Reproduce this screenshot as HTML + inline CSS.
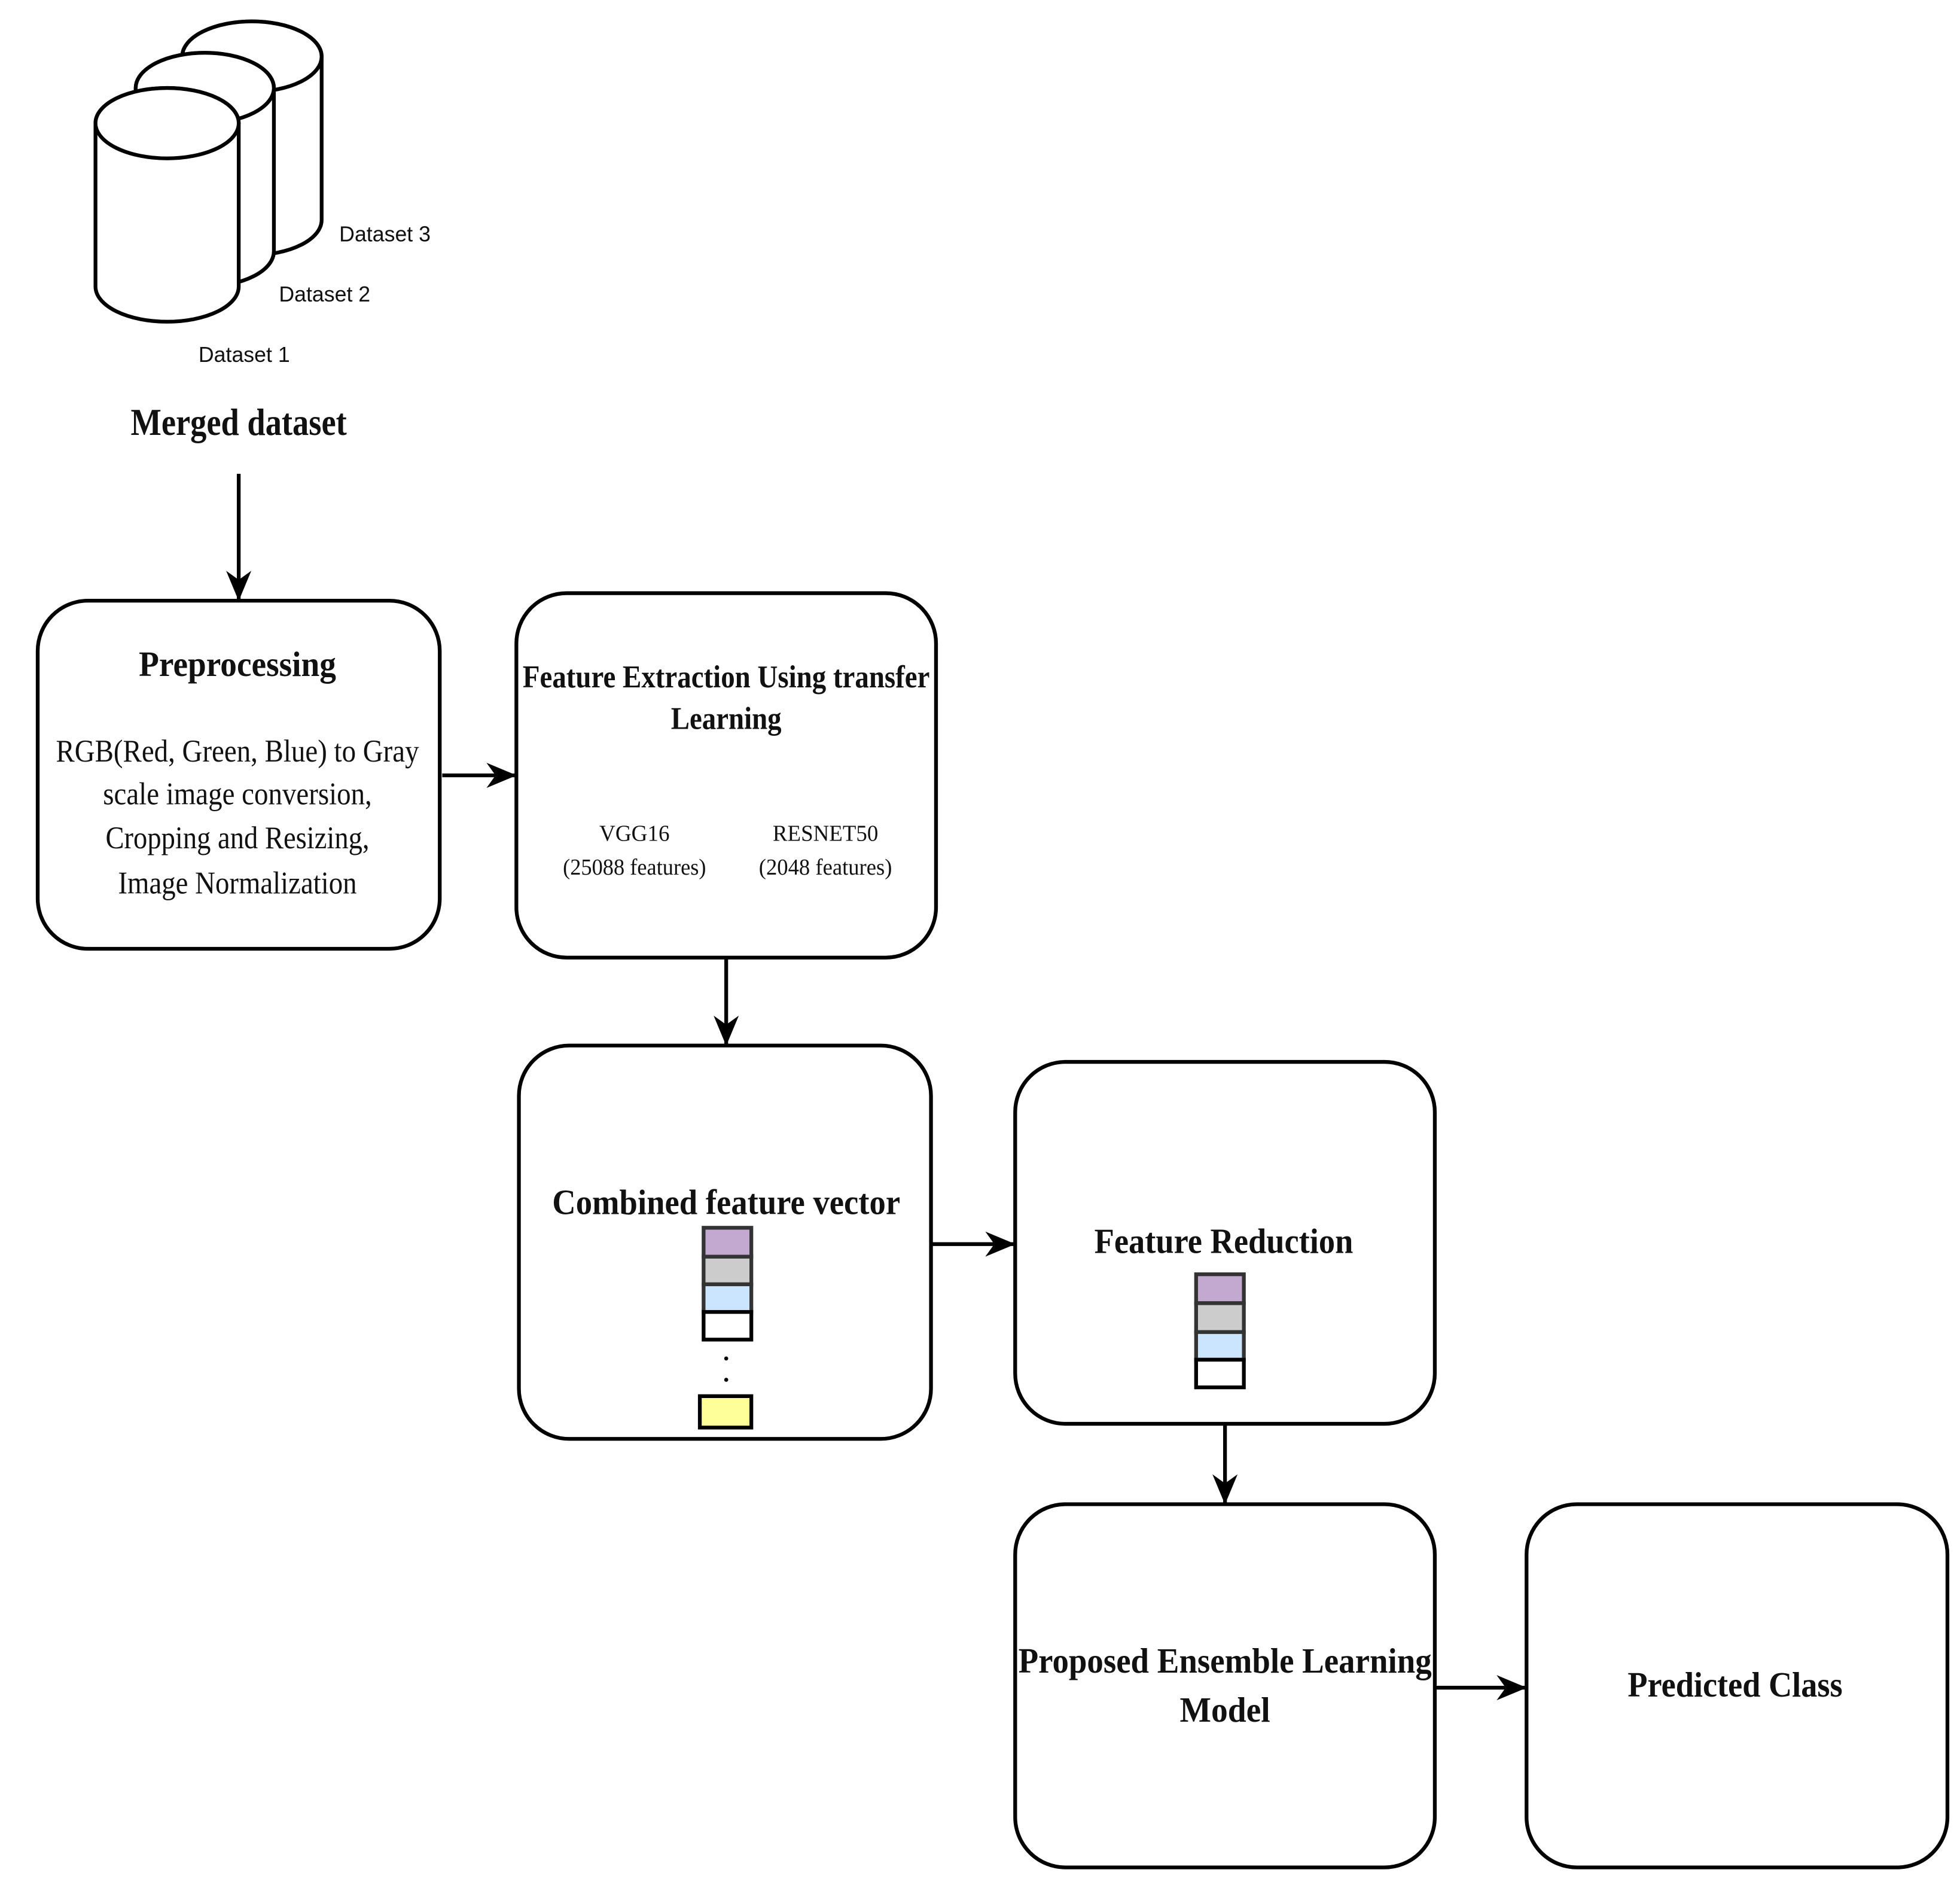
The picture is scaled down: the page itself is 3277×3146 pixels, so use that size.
<!DOCTYPE html>
<html><head><meta charset="utf-8"><style>html,body{margin:0;padding:0;background:#fff}svg{display:block}</style></head>
<body>
<svg width="3277" height="3146" viewBox="0 0 1560 1497.6" xmlns="http://www.w3.org/2000/svg">
<defs><marker id="a" viewBox="0 0 10 10" refX="9.5" refY="5" markerWidth="24" markerHeight="20" orient="auto" markerUnits="userSpaceOnUse" preserveAspectRatio="none"><path d="M0,0 L10,5 L0,10 L3,5 z" fill="#000"/></marker></defs>
<style>
.b{fill:#fff;stroke:#000;stroke-width:3}
.l{stroke:#000;stroke-width:3;fill:none}
.t{font-family:"Liberation Serif",serif;fill:#111}
.s{font-family:"Liberation Sans",sans-serif;fill:#111;font-size:17px}
</style>
<!-- cylinders -->
<g class="b">
<path d="M145,45 v130 a55.5,28 0 0 0 111,0 v-130 a55.5,28 0 0 0 -111,0 z"/><ellipse cx="200.5" cy="45" rx="55.5" ry="28"/>
<path d="M108,70 v130 a55,28 0 0 0 110,0 v-130 a55,28 0 0 0 -110,0 z"/><ellipse cx="163" cy="70" rx="55" ry="28"/>
<path d="M76,98 v130 a57,28 0 0 0 114,0 v-130 a57,28 0 0 0 -114,0 z"/><ellipse cx="133" cy="98" rx="57" ry="28"/>
</g>
<text class="s" x="270" y="192">Dataset 3</text>
<text class="s" x="222" y="240">Dataset 2</text>
<text class="s" x="158" y="288">Dataset 1</text>
<text class="t" x="190" y="346" text-anchor="middle" font-size="30" font-weight="bold" textLength="172" lengthAdjust="spacingAndGlyphs">Merged dataset</text>
<line class="l" x1="190" y1="377" x2="190" y2="477" marker-end="url(#a)"/>
<!-- boxes -->
<rect class="b" x="30" y="478" width="320" height="277" rx="40"/>
<rect class="b" x="411" y="472" width="334" height="290" rx="40"/>
<rect class="b" x="413" y="832" width="328" height="313" rx="40"/>
<rect class="b" x="808" y="845" width="334" height="288" rx="40"/>
<rect class="b" x="808" y="1197" width="334" height="289" rx="40"/>
<rect class="b" x="1215" y="1197" width="335" height="289" rx="40"/>
<!-- arrows -->
<line class="l" x1="352" y1="617" x2="410" y2="617" marker-end="url(#a)"/>
<line class="l" x1="578" y1="762" x2="578" y2="831" marker-end="url(#a)"/>
<line class="l" x1="742" y1="990" x2="807" y2="990" marker-end="url(#a)"/>
<line class="l" x1="975" y1="1133" x2="975" y2="1196" marker-end="url(#a)"/>
<line class="l" x1="1143" y1="1343" x2="1214" y2="1343" marker-end="url(#a)"/>
<!-- texts -->
<text class="t" x="189" y="538" text-anchor="middle" font-size="28" font-weight="bold" textLength="157" lengthAdjust="spacingAndGlyphs">Preprocessing</text>
<g class="t" font-size="25" text-anchor="middle">
<text x="189" y="606" textLength="289" lengthAdjust="spacingAndGlyphs">RGB(Red, Green, Blue) to Gray</text>
<text x="189" y="640" textLength="214" lengthAdjust="spacingAndGlyphs">scale image conversion,</text>
<text x="189" y="675" textLength="210" lengthAdjust="spacingAndGlyphs">Cropping and Resizing,</text>
<text x="189" y="711" textLength="190" lengthAdjust="spacingAndGlyphs">Image Normalization</text>
</g>
<g class="t" font-size="25" font-weight="bold" text-anchor="middle">
<text x="578" y="547" textLength="324" lengthAdjust="spacingAndGlyphs">Feature Extraction Using transfer</text>
<text x="578" y="580" textLength="88" lengthAdjust="spacingAndGlyphs">Learning</text>
<text x="578" y="966" font-size="28" textLength="277" lengthAdjust="spacingAndGlyphs">Combined feature vector</text>
<text x="974" y="997" font-size="28" textLength="206" lengthAdjust="spacingAndGlyphs">Feature Reduction</text>
<text x="975" y="1331" font-size="28" textLength="329" lengthAdjust="spacingAndGlyphs">Proposed Ensemble Learning</text>
<text x="975" y="1370" font-size="28" textLength="72" lengthAdjust="spacingAndGlyphs">Model</text>
<text x="1381" y="1350" font-size="28" textLength="171" lengthAdjust="spacingAndGlyphs">Predicted Class</text>
</g>
<g class="t" font-size="18" text-anchor="middle">
<text x="505" y="669" textLength="56" lengthAdjust="spacingAndGlyphs">VGG16</text>
<text x="505" y="696" textLength="114" lengthAdjust="spacingAndGlyphs">(25088 features)</text>
<text x="657" y="669" textLength="84" lengthAdjust="spacingAndGlyphs">RESNET50</text>
<text x="657" y="696" textLength="106" lengthAdjust="spacingAndGlyphs">(2048 features)</text>
</g>
<!-- vectors -->
<g stroke="#333" stroke-width="3">
<rect x="560" y="977" width="38" height="23" fill="#c3a9d0"/>
<rect x="560" y="1000" width="38" height="22" fill="#cccccc"/>
<rect x="560" y="1022" width="38" height="22" fill="#cce5ff"/>
<rect x="560" y="1044" width="38" height="22" fill="#fff" stroke="#000"/>
<rect x="557" y="1111" width="41" height="25" fill="#ffff99" stroke="#000"/>
<rect x="952" y="1014" width="38" height="23" fill="#c3a9d0"/>
<rect x="952" y="1037" width="38" height="23" fill="#cccccc"/>
<rect x="952" y="1060" width="38" height="22" fill="#cce5ff"/>
<rect x="952" y="1082" width="38" height="22" fill="#fff" stroke="#000"/>
</g>
<circle cx="578" cy="1081" r="1.6" fill="#000"/>
<circle cx="578" cy="1098" r="1.6" fill="#000"/>
</svg>
</body></html>
